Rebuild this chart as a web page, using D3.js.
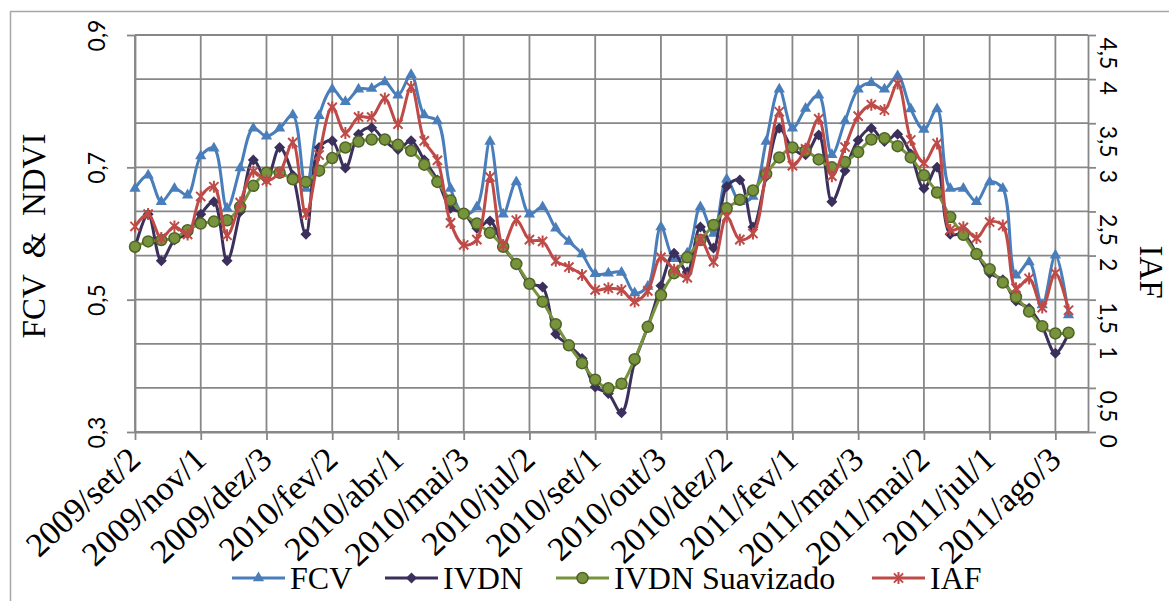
<!doctype html>
<html lang="pt">
<head>
    <title>FCV, IVDN e IAF</title>
    <script src='https://d3js.org/d3.v7.min.js'></script>
    <style>
        body { margin: 0; background: #fff; }
        text { fill: #000; }
    </style>
</head>
<body>
<script>
    // Dekads (decêndios) from 2009/set/2 to 2011/set/1
    var categories = [
        "2009/set/2","2009/set/3","2009/out/1","2009/out/2","2009/out/3","2009/nov/1","2009/nov/2","2009/nov/3","2009/dez/1","2009/dez/2",
        "2009/dez/3","2010/jan/1","2010/jan/2","2010/jan/3","2010/fev/1","2010/fev/2","2010/fev/3","2010/mar/1","2010/mar/2","2010/mar/3",
        "2010/abr/1","2010/abr/2","2010/abr/3","2010/mai/1","2010/mai/2","2010/mai/3","2010/jun/1","2010/jun/2","2010/jun/3","2010/jul/1",
        "2010/jul/2","2010/jul/3","2010/ago/1","2010/ago/2","2010/ago/3","2010/set/1","2010/set/2","2010/set/3","2010/out/1","2010/out/2",
        "2010/out/3","2010/nov/1","2010/nov/2","2010/nov/3","2010/dez/1","2010/dez/2","2010/dez/3","2011/jan/1","2011/jan/2","2011/jan/3",
        "2011/fev/1","2011/fev/2","2011/fev/3","2011/mar/1","2011/mar/2","2011/mar/3","2011/abr/1","2011/abr/2","2011/abr/3","2011/mai/1",
        "2011/mai/2","2011/mai/3","2011/jun/1","2011/jun/2","2011/jun/3","2011/jul/1","2011/jul/2","2011/jul/3","2011/ago/1","2011/ago/2",
        "2011/ago/3","2011/set/1"
    ];

    // Left axis series
    var fcv = [
        0.668, 0.688, 0.648, 0.668, 0.658, 0.717, 0.729, 0.638, 0.699, 0.759,
        0.747, 0.759, 0.779, 0.668, 0.778, 0.818, 0.799, 0.818, 0.819, 0.829,
        0.809, 0.840, 0.779, 0.770, 0.668, 0.629, 0.640, 0.739, 0.629, 0.678,
        0.629, 0.640, 0.608, 0.588, 0.569, 0.539, 0.540, 0.541, 0.510, 0.520,
        0.610, 0.562, 0.570, 0.640, 0.600, 0.682, 0.648, 0.656, 0.739, 0.818,
        0.759, 0.789, 0.809, 0.719, 0.770, 0.818, 0.828, 0.818, 0.838, 0.788,
        0.757, 0.788, 0.668, 0.668, 0.648, 0.678, 0.668, 0.537, 0.557, 0.492,
        0.567, 0.477
    ];
    var ivdn = [
        0.578, 0.629, 0.559, 0.590, 0.600, 0.629, 0.648, 0.559, 0.633, 0.711,
        0.682, 0.730, 0.688, 0.599, 0.730, 0.740, 0.699, 0.750, 0.760, 0.740,
        0.727, 0.740, 0.711, 0.681, 0.638, 0.631, 0.608, 0.619, 0.580, 0.554,
        0.524, 0.519, 0.448, 0.431, 0.411, 0.368, 0.358, 0.329, 0.406, 0.459,
        0.521, 0.570, 0.542, 0.610, 0.578, 0.671, 0.681, 0.610, 0.686, 0.759,
        0.729, 0.719, 0.749, 0.648, 0.695, 0.741, 0.759, 0.739, 0.750, 0.720,
        0.668, 0.700, 0.599, 0.599, 0.570, 0.540, 0.530, 0.498, 0.487, 0.459,
        0.419, 0.449
    ];
    var ivdnSuavizado = [
        0.580, 0.588, 0.590, 0.593, 0.605, 0.615, 0.618, 0.620, 0.640, 0.672,
        0.692, 0.692, 0.682, 0.678, 0.695, 0.714, 0.730, 0.739, 0.742, 0.742,
        0.734, 0.725, 0.704, 0.678, 0.650, 0.630, 0.615, 0.601, 0.580, 0.554,
        0.524, 0.497, 0.463, 0.431, 0.404, 0.379, 0.366, 0.373, 0.410, 0.459,
        0.507, 0.540, 0.564, 0.590, 0.613, 0.638, 0.651, 0.665, 0.690, 0.715,
        0.730, 0.725, 0.712, 0.700, 0.708, 0.723, 0.742, 0.744, 0.732, 0.715,
        0.688, 0.662, 0.625, 0.598, 0.569, 0.546, 0.526, 0.504, 0.482, 0.460,
        0.449, 0.450
    ];

    // Right axis series
    var iaf = [
        2.33, 2.47, 2.20, 2.33, 2.24, 2.67, 2.78, 2.23, 2.60, 2.95,
        2.85, 2.94, 3.28, 2.47, 3.14, 3.68, 3.39, 3.57, 3.57, 3.78,
        3.49, 3.91, 3.30, 3.08, 2.37, 2.12, 2.18, 2.89, 2.12, 2.40,
        2.18, 2.16, 1.94, 1.87, 1.78, 1.61, 1.63, 1.61, 1.48, 1.60,
        1.98, 1.84, 1.75, 2.18, 1.93, 2.44, 2.18, 2.25, 2.93, 3.63,
        3.02, 3.21, 3.55, 2.90, 3.23, 3.58, 3.71, 3.65, 3.95, 3.31,
        3.05, 3.27, 2.29, 2.32, 2.20, 2.38, 2.34, 1.63, 1.74, 1.41,
        1.80, 1.38
    ];

    var leftTicks  = [0.3, 0.5, 0.7, 0.9];
    var rightTicks = [0, 0.5, 1, 1.5, 2, 2.5, 3, 3.5, 4, 4.5];
    var xTickLabels = categories.filter(function(d, i) { return i % 5 === 0; });

    const xSize = 1169;   const ySize = 601;
    const plot  = { left: 135, right: 1088, top: 35, bottom: 432 };
    const serif = "'Liberation Serif', 'Times New Roman', serif";
    const sans  = "Lato, 'Open Sans', sans-serif";
    const gridColour = "#878787";

    const svg = d3.select("body")
                  .append("svg")
                  .attr("width",  xSize)
                  .attr("height", ySize);

    // Chart area border
    svg.append("rect")
       .attr("x", 10.5).attr("y", 11.5)
       .attr("width", xSize).attr("height", ySize)
       .attr("fill", "#fff").attr("stroke", "#a6a6a6").attr("stroke-width", 1.5);

    // Scales
    var x = d3.scalePoint().domain(categories).range([plot.left, plot.right]).padding(0.74).align(0);
    var yLeft  = d3.scaleLinear().domain([0.3, 0.9]).range([plot.bottom, plot.top]);
    var yRight = d3.scaleLinear().domain([0, 4.5]).range([plot.bottom, plot.top]);

    var comma = function(d) { return String(d).replace(".", ","); };

    // Gridlines
    svg.append("g").selectAll("line")
       .data(rightTicks).enter().append("line")
       .attr("x1", plot.left).attr("x2", plot.right)
       .attr("y1", function(d) { return yRight(d); }).attr("y2", function(d) { return yRight(d); })
       .attr("stroke", gridColour).attr("stroke-width", 1.8);

    svg.append("g").selectAll("line")
       .data(xTickLabels).enter().append("line")
       .attr("x1", function(d) { return x(d); }).attr("x2", function(d) { return x(d); })
       .attr("y1", plot.top).attr("y2", plot.bottom)
       .attr("stroke", gridColour).attr("stroke-width", 1.8);

    // Axes
    var xAxis = svg.append("g")
       .attr("transform", "translate(0," + plot.bottom + ")")
       .call(d3.axisBottom(x).tickValues(xTickLabels).tickSize(8).tickSizeOuter(0));

    xAxis.selectAll("text")
       .attr("y", null).attr("dy", null)
       .attr("text-anchor", "end")
       .attr("transform", "translate(7,30) rotate(-43)")
       .style("font", "34px " + serif);

    var leftAxis = svg.append("g")
       .attr("transform", "translate(" + plot.left + ",0)")
       .call(d3.axisLeft(yLeft).tickValues(leftTicks).tickFormat(comma).tickSize(8).tickSizeOuter(0));

    leftAxis.selectAll("text")
       .attr("x", null).attr("dy", null)
       .attr("text-anchor", "middle")
       .attr("transform", "translate(-30,0) rotate(-90)")
       .style("font", "23px " + sans);

    var rightAxis = svg.append("g")
       .attr("transform", "translate(" + plot.right + ",0)")
       .call(d3.axisRight(yRight).tickValues(rightTicks).tickFormat(comma).tickSize(8).tickSizeOuter(0));

    rightAxis.selectAll("text")
       .attr("x", null).attr("dy", null)
       .attr("text-anchor", "start")
       .attr("transform", "translate(12,2) rotate(90)")
       .style("font", "23px " + sans);

    svg.selectAll(".domain, .tick line")
       .attr("stroke", gridColour).attr("stroke-width", 1.8);

    // Axis titles
    svg.append("text")
       .attr("transform", "translate(45,236) rotate(-90)")
       .attr("text-anchor", "middle")
       .style("font", "33px " + serif).style("white-space", "pre")
       .text("FCV  &  NDVI");

    svg.append("text")
       .attr("transform", "translate(1140,272) rotate(90)")
       .attr("text-anchor", "middle")
       .style("font", "33px " + serif)
       .text("IAF");

    // Marker shapes
    var triangle = d3.symbol(d3.symbolTriangle, 55)();
    var diamond  = "M0,-5.5L5.5,0L0,5.5L-5.5,0Z";
    var star     = "M0,-6V6M-4.6,-4.6L4.6,4.6M-4.6,4.6L4.6,-4.6";

    var series = [
        { name: "FCV",            values: fcv,           y: yLeft,  colour: "#4a7ebb", marker: "triangle" },
        { name: "IVDN",           values: ivdn,          y: yLeft,  colour: "#3b2f5c", marker: "diamond" },
        { name: "IVDN Suavizado", values: ivdnSuavizado, y: yLeft,  colour: "#77933c", marker: "circle" },
        { name: "IAF",            values: iaf,           y: yRight, colour: "#be4b48", marker: "star" }
    ];

    function drawMarker(g, s) {
        if (s.marker === "circle") {
            g.append("circle").attr("r", 5.5)
             .attr("fill", s.colour).attr("stroke", "#4f6228").attr("stroke-width", 1.5);
        } else if (s.marker === "star") {
            g.append("path").attr("d", star)
             .attr("fill", "none").attr("stroke", s.colour).attr("stroke-width", 2);
        } else {
            g.append("path").attr("d", s.marker === "triangle" ? triangle : diamond)
             .attr("fill", s.colour);
        }
    }

    // Draw lines and markers
    series.forEach(function(s) {
        var line = d3.line()
            .x(function(d, i) { return x(categories[i]); })
            .y(function(d) { return s.y(d); })
            .curve(d3.curveCatmullRom.alpha(0.5));

        svg.append("path")
           .datum(s.values)
           .attr("d", line)
           .attr("fill", "none")
           .attr("stroke", s.colour)
           .attr("stroke-width", 3);

        svg.append("g").selectAll("g")
           .data(s.values).enter().append("g")
           .attr("transform", function(d, i) { return "translate(" + x(categories[i]) + "," + s.y(d) + ")"; })
           .each(function() { drawMarker(d3.select(this), s); });
    });

    // Legend
    var legendX = [232, 385, 556, 872];
    var legend = svg.append("g").attr("transform", "translate(0,578)");

    series.forEach(function(s, i) {
        var item = legend.append("g").attr("transform", "translate(" + legendX[i] + ",0)");
        item.append("line").attr("x1", 0).attr("x2", 53)
            .attr("stroke", s.colour).attr("stroke-width", 3);
        drawMarker(item.append("g").attr("transform", "translate(26.5,0)"), s);
        item.append("text")
            .attr("x", 58).attr("y", 11)
            .style("font", "32px " + serif)
            .text(s.name);
    });
</script>
</body>
</html>
